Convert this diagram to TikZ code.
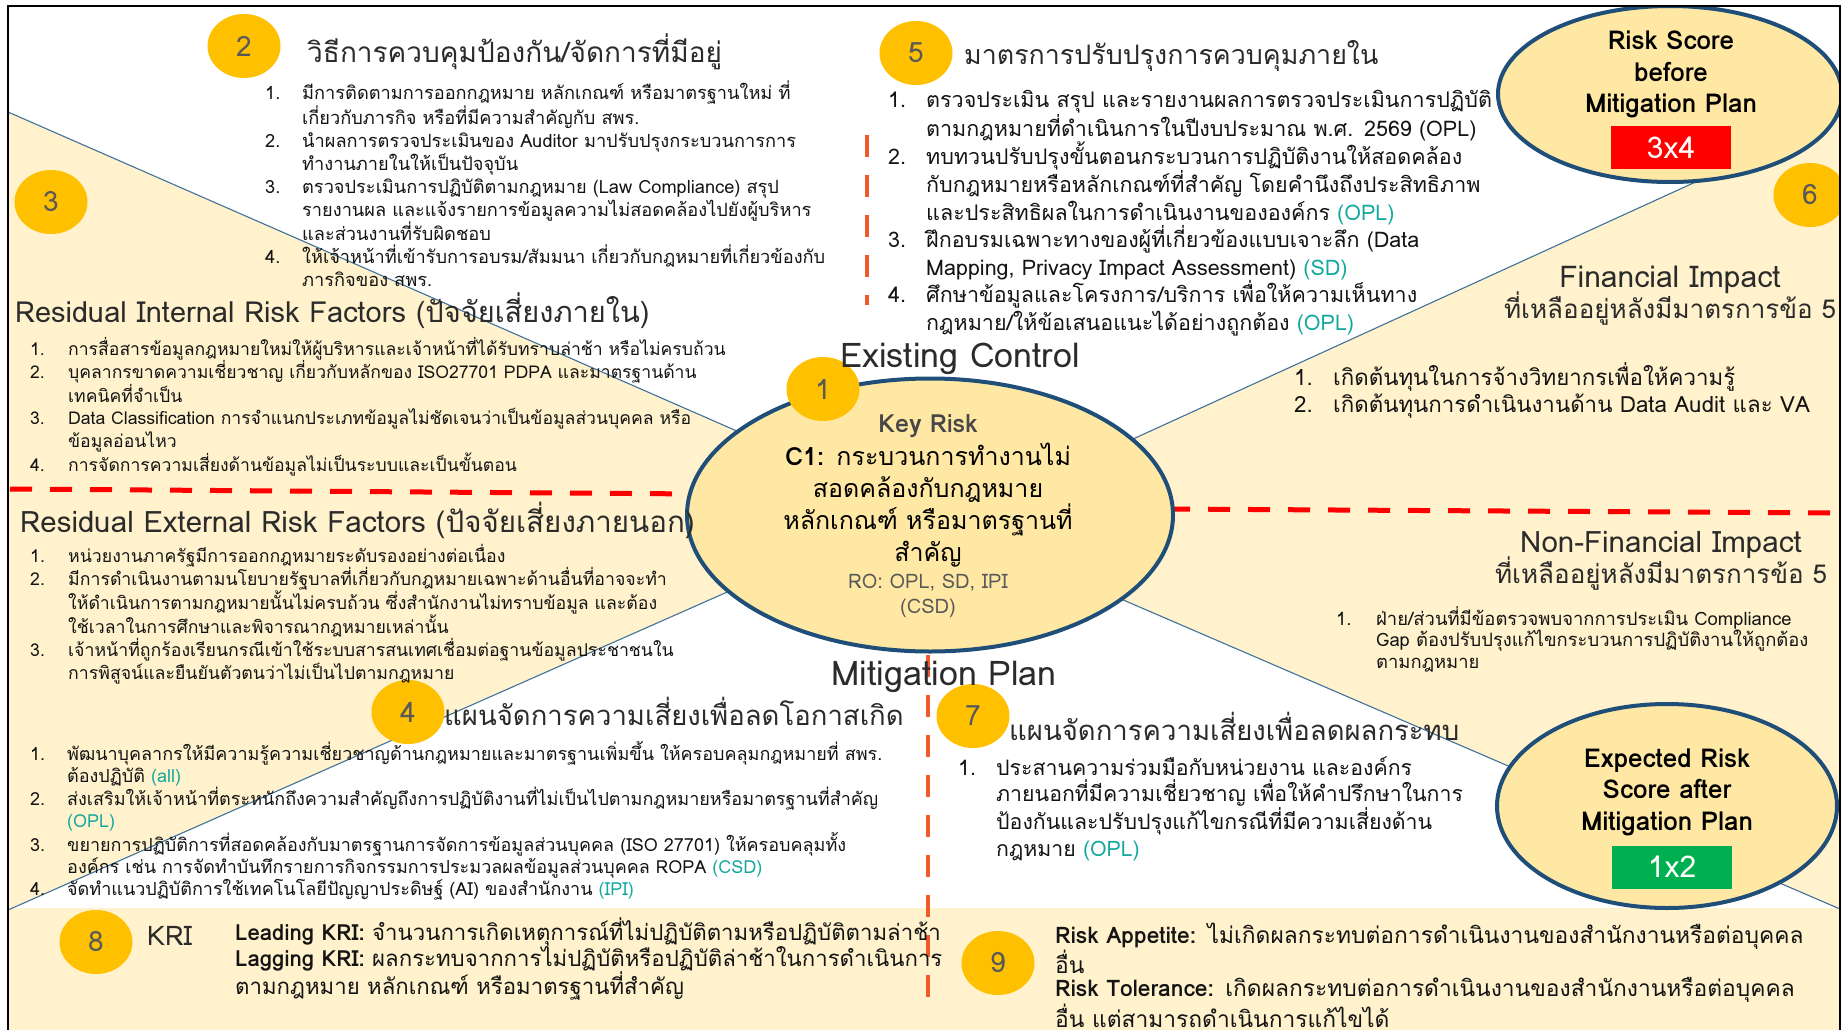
\documentclass[tikz,border=0pt]{standalone}
\usepackage{fontspec}
\setmainfont[Script=Thai]{Loma}
\usetikzlibrary{shapes.geometric}
\definecolor{bgY}{HTML}{FFF2CC}
\definecolor{ellY}{HTML}{FFE8A3}
\definecolor{gold}{HTML}{FFC000}
\definecolor{navy}{HTML}{1F4E79}
\definecolor{lineB}{HTML}{41719C}
\definecolor{tealc}{HTML}{13A89E}
\definecolor{numG}{HTML}{595959}
\definecolor{txtC}{HTML}{141414}
\definecolor{hdC}{HTML}{2B2B2B}
\definecolor{orangeR}{HTML}{F0592A}
\definecolor{redD}{HTML}{FF0000}
\definecolor{greenB}{HTML}{00B050}
\newcommand{\nn}[2]{\makebox[#1pt][l]{#2}}
\newcommand{\ii}[1]{\hspace*{#1pt}}
\newcommand{\tl}[1]{{\color{tealc}#1}}
\tikzset{
  numc/.style={ellipse, fill=gold, minimum width=73pt, minimum height=64pt, inner sep=0pt, text=numG, font=\fontsize{28}{28}\selectfont},
  bigell/.style={ellipse, draw=navy, line width=4pt, fill=ellY, inner sep=0pt},
  diag/.style={draw=lineB, line width=1.1pt},
  reddash/.style={draw=redD, line width=5pt, dash pattern=on 22pt off 18pt},
  orgdash/.style={draw=orangeR, line width=4pt, dash pattern=on 22pt off 18pt},
  lst/.style={anchor=base west, inner sep=0pt, text width=1000pt, align=left, text=txtC},
  hd/.style={anchor=base west, inner sep=0pt, text=hdC},
  hdc/.style={anchor=base, inner sep=0pt, text=hdC},
  ctr/.style={anchor=base, inner sep=0pt, text width=400pt, align=center},
  scorebox/.style={minimum width=120pt, minimum height=43pt, inner sep=0pt, text=white, font=\fontsize{30}{30}\selectfont}
}
\begin{document}
\begin{tikzpicture}[x=1pt,y=-1pt]
\useasboundingbox (0,0) rectangle (1845,1030);
\fill[white] (0,0) rectangle (1845,1030);
\begin{scope}
\clip (8,6) rectangle (1840,1030);
% background regions
\coordinate (ulA) at (8,112);
\coordinate (lApex) at (915,509);
\coordinate (llA) at (8,910);
\coordinate (urA) at (1840,116);
\coordinate (rApex) at (947,524);
\coordinate (lrA) at (1840,909);
\fill[bgY] (ulA) -- (lApex) -- (llA) -- cycle;
\fill[bgY] (urA) -- (rApex) -- (lrA) -- cycle;
\fill[bgY] (8,908) rectangle (1840,1030);
\draw[diag] (ulA) -- (lApex);
\draw[diag] (llA) -- (lApex);
\draw[diag] (urA) -- (rApex);
\draw[diag] (lrA) -- (rApex);
% dashed separators
\coordinate (rdL1) at (10,489);
\coordinate (rdL2) at (700,494);
\coordinate (rdR1) at (1168,509);
\coordinate (rdR2) at (1840,513);
\draw[reddash] (rdL1) -- (rdL2);
\draw[reddash] (rdR1) -- (rdR2);
\coordinate (ov1) at (867,135);
\coordinate (ov2) at (867,305);
\coordinate (ov3) at (928,655);
\coordinate (ov4) at (928,1000);
\draw[orgdash] (ov1) -- (ov2);
\draw[orgdash] (ov3) -- (ov4);
% numbered circles (under text)
\node[numc] (n2) at (244,46) {2};
\node[numc] (n3) at (51,202) {3};
\node[numc] (n4) at (408,712) {4};
\node[numc] (n5) at (916,53) {5};
\node[numc] (n6) at (1810,195) {6};
\node[numc] (n7) at (973,716) {7};
\node[numc] (n8) at (96,942) {8};
\node[numc] (n9) at (998,963) {9};
% section 2
\node[hd, font=\fontsize{28}{28}\selectfont] (h2) at (307,63) {วิธีการควบคุมป้องกัน/จัดการที่มีอยู่};
\node[lst, font=\fontsize{18.2}{23}\selectfont] (l2) at (265,100) {%
\nn{37}{1.}มีการติดตามการออกกฎหมาย หลักเกณฑ์ หรือมาตรฐานใหม่ ที่\\
\ii{37}เกี่ยวกับภารกิจ หรือที่มีความสำคัญกับ สพร.\\
\nn{37}{2.}นำผลการตรวจประเมินของ Auditor มาปรับปรุงกระบวนการการ\\
\ii{37}ทำงานภายในให้เป็นปัจจุบัน\\
\nn{37}{3.}ตรวจประเมินการปฏิบัติตามกฎหมาย (Law Compliance) สรุป\\
\ii{37}รายงานผล และแจ้งรายการข้อมูลความไม่สอดคล้องไปยังผู้บริหาร\\
\ii{37}และส่วนงานที่รับผิดชอบ\\
\nn{37}{4.}ให้เจ้าหน้าที่เข้ารับการอบรม/สัมมนา เกี่ยวกับกฎหมายที่เกี่ยวข้องกับ\\
\ii{37}ภารกิจของ สพร.};
% section 5
\node[hd, font=\fontsize{26.8}{26.8}\selectfont] (h5) at (964,65) {มาตรการปรับปรุงการควบคุมภายใน};
\node[lst, font=\fontsize{21.5}{27.5}\selectfont] (l5) at (888,108) {%
\nn{38}{1.}ตรวจประเมิน สรุป และรายงานผลการตรวจประเมินการปฏิบัติ\\
\ii{38}ตามกฎหมายที่ดำเนินการในปีงบประมาณ พ.ศ. 2569 (OPL)\\
\nn{38}{2.}ทบทวนปรับปรุงขั้นตอนกระบวนการปฏิบัติงานให้สอดคล้อง\\
\ii{38}กับกฎหมายหรือหลักเกณฑ์ที่สำคัญ โดยคำนึงถึงประสิทธิภาพ\\
\ii{38}และประสิทธิผลในการดำเนินงานขององค์กร \tl{(OPL)}\\
\nn{38}{3.}ฝึกอบรมเฉพาะทางของผู้ที่เกี่ยวข้องแบบเจาะลึก (Data\\
\ii{38}Mapping, Privacy Impact Assessment) \tl{(SD)}\\
\nn{38}{4.}ศึกษาข้อมูลและโครงการ/บริการ เพื่อให้ความเห็นทาง\\
\ii{38}กฎหมาย/ให้ข้อเสนอแนะได้อย่างถูกต้อง \tl{(OPL)}};
% section 3 internal
\node[hd, font=\fontsize{29}{29}\selectfont] (h3) at (15,322) {Residual Internal Risk Factors (ปัจจัยเสี่ยงภายใน)};
\node[lst, font=\fontsize{17.6}{22.6}\selectfont] (l3) at (30,355) {%
\nn{38}{1.}การสื่อสารข้อมูลกฎหมายใหม่ให้ผู้บริหารและเจ้าหน้าที่ได้รับทราบล่าช้า หรือไม่ครบถ้วน\\
\nn{38}{2.}บุคลากรขาดความเชี่ยวชาญ เกี่ยวกับหลักของ ISO27701 PDPA และมาตรฐานด้าน\\
\ii{38}เทคนิคที่จำเป็น\\
\nn{38}{3.}Data Classification การจำแนกประเภทข้อมูลไม่ชัดเจนว่าเป็นข้อมูลส่วนบุคคล หรือ\\
\ii{38}ข้อมูลอ่อนไหว\\
\nn{38}{4.}การจัดการความเสี่ยงด้านข้อมูลไม่เป็นระบบและเป็นขั้นตอน};
% external list
\node[lst, font=\fontsize{17.7}{23}\selectfont] (l3b) at (30,562) {%
\nn{38}{1.}หน่วยงานภาครัฐมีการออกกฎหมายระดับรองอย่างต่อเนื่อง\\
\nn{38}{2.}มีการดำเนินงานตามนโยบายรัฐบาลที่เกี่ยวกับกฎหมายเฉพาะด้านอื่นที่อาจจะทำ\\
\ii{38}ให้ดำเนินการตามกฎหมายนั้นไม่ครบถ้วน ซึ่งสำนักงานไม่ทราบข้อมูล และต้อง\\
\ii{38}ใช้เวลาในการศึกษาและพิจารณากฎหมายเหล่านั้น\\
\nn{38}{3.}เจ้าหน้าที่ถูกร้องเรียนกรณีเข้าใช้ระบบสารสนเทศเชื่อมต่อฐานข้อมูลประชาชนใน\\
\ii{38}การพิสูจน์และยืนยันตัวตนว่าไม่เป็นไปตามกฎหมาย};
% section 4
\node[hd, font=\fontsize{27.5}{27.5}\selectfont] (h4) at (444,725) {แผนจัดการความเสี่ยงเพื่อลดโอกาสเกิด};
\node[lst, font=\fontsize{18}{22}\selectfont] (l4) at (30,760) {%
\nn{37}{1.}พัฒนาบุคลากรให้มีความรู้ความเชี่ยวชาญด้านกฎหมายและมาตรฐานเพิ่มขึ้น ให้ครอบคลุมกฎหมายที่ สพร.\\
\ii{37}ต้องปฏิบัติ \tl{(all)}\\
\nn{37}{2.}ส่งเสริมให้เจ้าหน้าที่ตระหนักถึงความสำคัญถึงการปฏิบัติงานที่ไม่เป็นไปตามกฎหมายหรือมาตรฐานที่สำคัญ\\
\ii{37}\tl{(OPL)}\\
\nn{37}{3.}ขยายการปฏิบัติการที่สอดคล้องกับมาตรฐานการจัดการข้อมูลส่วนบุคคล (ISO 27701) ให้ครอบคลุมทั้ง\\
\ii{37}องค์กร เช่น การจัดทำบันทึกรายการกิจกรรมการประมวลผลข้อมูลส่วนบุคคล ROPA \tl{(CSD)}\\
\nn{37}{4.}จัดทำแนวปฏิบัติการใช้เทคโนโลยีปัญญาประดิษฐ์ (AI) ของสำนักงาน \tl{(IPI)}};
% section 7
\node[hd, font=\fontsize{27.5}{27.5}\selectfont] (h7) at (1009,740) {แผนจัดการความเสี่ยงเพื่อลดผลกระทบ};
\node[lst, font=\fontsize{21.3}{26.7}\selectfont] (l7) at (958,775) {%
\nn{38}{1.}ประสานความร่วมมือกับหน่วยงาน และองค์กร\\
\ii{38}ภายนอกที่มีความเชี่ยวชาญ เพื่อให้คำปรึกษาในการ\\
\ii{38}ป้องกันและปรับปรุงแก้ไขกรณีที่มีความเสี่ยงด้าน\\
\ii{38}กฎหมาย \tl{(OPL)}};
% section 6 financial
\node[hdc, font=\fontsize{30}{30}\selectfont] (h6a) at (1670,287) {Financial Impact};
\node[hdc, font=\fontsize{26}{26}\selectfont] (h6b) at (1670,318) {ที่เหลืออยู่หลังมีมาตรการข้อ 5};
\node[lst, font=\fontsize{22.3}{27}\selectfont] (l6) at (1294,385) {%
\nn{39}{1.}เกิดต้นทุนในการจ้างวิทยากรเพื่อให้ความรู้\\
\nn{39}{2.}เกิดต้นทุนการดำเนินงานด้าน Data Audit และ VA};
\node[hdc, font=\fontsize{29.5}{29.5}\selectfont] (h6c) at (1661,552) {Non-Financial Impact};
\node[hdc, font=\fontsize{26}{26}\selectfont] (h6d) at (1661,583) {ที่เหลืออยู่หลังมีมาตรการข้อ 5};
\node[lst, font=\fontsize{18.4}{21.5}\selectfont] (l6b) at (1336,625) {%
\nn{40}{1.}ฝ่าย/ส่วนที่มีข้อตรวจพบจากการประเมิน Compliance\\
\ii{40}Gap ต้องปรับปรุงแก้ไขกระบวนการปฏิบัติงานให้ถูกต้อง\\
\ii{40}ตามกฎหมาย};
% section 8 and 9
\node[hd, font=\fontsize{27}{27}\selectfont] (kri) at (147,945) {KRI};
\node[lst, font=\fontsize{22.2}{26}\selectfont] (l8) at (235,940) {%
\textbf{Leading KRI:} จำนวนการเกิดเหตุการณ์ที่ไม่ปฏิบัติตามหรือปฏิบัติตามล่าช้า\\
\textbf{Lagging KRI:} ผลกระทบจากการไม่ปฏิบัติหรือปฏิบัติล่าช้าในการดำเนินการ\\
ตามกฎหมาย หลักเกณฑ์ หรือมาตรฐานที่สำคัญ};
\node[lst, font=\fontsize{22.8}{23.5}\selectfont] (l9) at (1055,943) {%
\textbf{Risk Appetite:} ไม่เกิดผลกระทบต่อการดำเนินงานของสำนักงานหรือต่อบุคคล\\
อื่น\\
\textbf{Risk Tolerance:} เกิดผลกระทบต่อการดำเนินงานของสำนักงานหรือต่อบุคคล\\
อื่น แต่สามารถดำเนินการแก้ไขได้};
% central ellipse
\node[bigell, minimum width=486pt, minimum height=273pt] (kr) at (930,515) {};
\node[hd, font=\fontsize{29.5}{29.5}\selectfont] (h3b) at (20,532) {Residual External Risk Factors (ปัจจัยเสี่ยงภายนอก)};
\node[numc] (n1) at (823,389) {1};
\node[hdc, font=\fontsize{34}{34}\selectfont] (ec) at (960,367) {Existing Control};
\node[hdc, font=\fontsize{34}{34}\selectfont] (mp) at (944,685) {Mitigation Plan};
\node[anchor=base, inner sep=0pt, text=numG!80!black, font=\bfseries\fontsize{25}{25}\selectfont] (kr1) at (928,432) {Key Risk};
\node[ctr, text=black, font=\fontsize{25}{32}\selectfont] (kr2) at (928,465) {\textbf{C1:} กระบวนการทำงานไม่\\สอดคล้องกับกฎหมาย\\หลักเกณฑ์ หรือมาตรฐานที่\\สำคัญ};
\node[ctr, text=numG, font=\fontsize{20}{25}\selectfont] (kr3) at (928,588) {RO: OPL, SD, IPI\\(CSD)};
% risk score circles
\node[bigell, minimum width=344pt, minimum height=176pt] (rsb) at (1670,94) {};
\node[ctr, text=black, font=\bfseries\fontsize{26}{31.5}\selectfont] (rsbt) at (1671,50) {Risk Score\\before\\Mitigation Plan};
\node[scorebox, fill=redD] (b34) at (1671,148) {3x4};
\node[bigell, minimum width=340pt, minimum height=204pt] (rsa) at (1667,806) {};
\node[ctr, text=black, font=\bfseries\fontsize{26}{31.5}\selectfont] (rsat) at (1667,767) {Expected Risk\\Score after\\Mitigation Plan};
\node[scorebox, fill=greenB] (b12) at (1672,867) {1x2};
\end{scope}
\draw[black, line width=1.5pt] (8,1040) -- (8,6) -- (1840,6) -- (1840,1040);
\end{tikzpicture}
\end{document}
